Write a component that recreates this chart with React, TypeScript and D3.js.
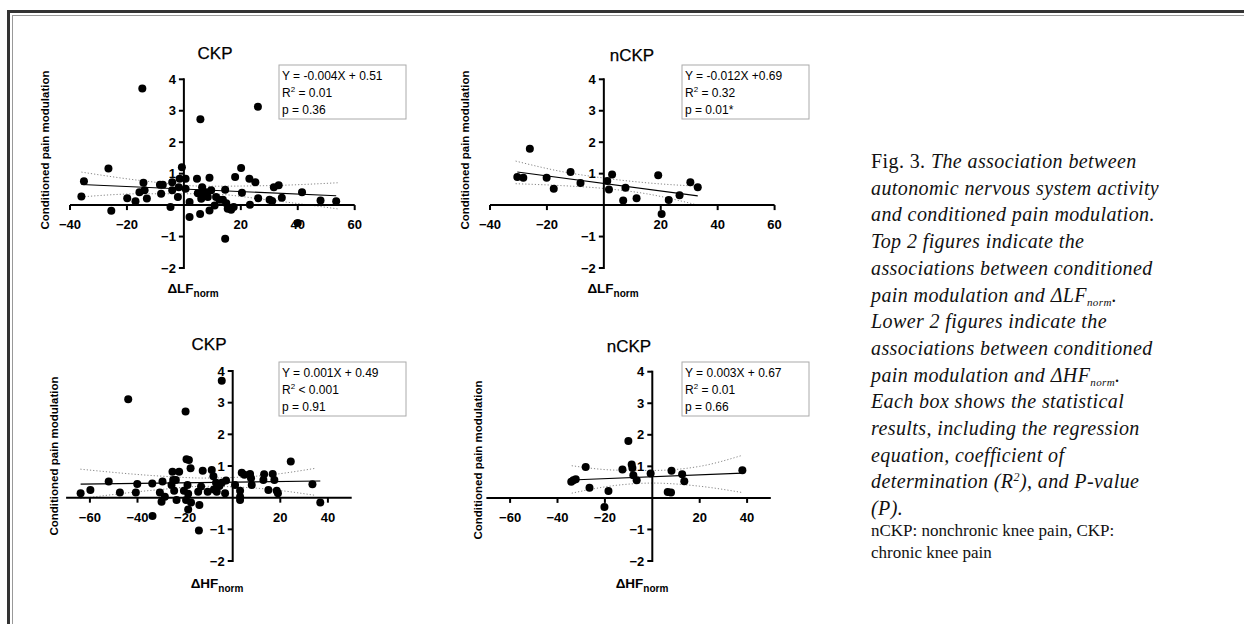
import React from "react"
import * as d3 from "d3"

// points: [ΔX, conditioned pain modulation]
const ckpLF: [number, number][] = [
  [-14.6, 3.71], [26.0, 3.13], [5.8, 2.73], [-26.5, 1.16], [20.1, 1.18], [-0.7, 1.2],
  [-35.1, 0.76], [-36.0, 0.27], [-25.5, -0.18], [-19.9, 0.22], [-17.0, 0.12], [-15.6, 0.41],
  [-14.2, 0.71], [-13.8, 0.47], [-13.0, 0.21], [-8.4, 0.65], [-7.4, 0.65], [-8.0, 0.36],
  [-4.7, -0.06], [-4.1, 0.73], [-4.1, 0.47], [-2.1, 0.26], [-1.8, 0.57], [-1.5, 0.84],
  [0.6, 0.84], [0.6, 0.52], [2.0, 0.1], [2.0, -0.38], [4.6, 0.84], [4.9, 0.38],
  [6.1, 0.2], [5.7, -0.28], [6.4, 0.57], [6.9, 0.36], [7.8, 0.41], [9.0, 0.87],
  [8.4, 0.26], [9.0, -0.17], [9.6, 0.47], [10.8, -0.01], [11.3, 0.26], [12.5, 0.17],
  [13.7, 0.17], [14.5, 0.49], [14.9, 0.06], [15.4, -0.12], [16.6, -0.15], [14.5, -1.07],
  [18.0, 0.89], [20.4, 0.39], [17.5, -0.06], [23.0, 0.84], [25.1, 0.73], [23.2, 0.01],
  [26.1, 0.22], [31.0, 0.13], [31.6, 0.57], [33.3, 0.63], [34.4, 0.23], [30.1, 0.17],
  [41.5, 0.41], [40.0, -0.57], [48.0, 0.15], [53.5, 0.12],
]

const nckpLF: [number, number][] = [
  [-30.4, 0.89], [-28.3, 0.87], [-26.0, 1.79], [-20.1, 0.87], [-17.6, 0.52], [-11.7, 1.05],
  [-8.2, 0.7], [1.2, 0.77], [1.8, 0.5], [2.9, 0.97], [7.6, 0.55], [6.8, 0.15],
  [11.5, 0.22], [19.1, 0.95], [20.3, -0.28], [22.8, 0.16], [26.6, 0.31], [30.4, 0.73],
  [33.0, 0.57],
]

const ckpHF: [number, number][] = [
  [-4.6, 3.69], [-43.9, 3.11], [-19.8, 2.72], [-19.4, 1.21], [-18.4, 1.19], [24.4, 1.14],
  [-63.9, 0.14], [-59.8, 0.24], [-52.1, 0.51], [-47.4, 0.16], [-40.7, 0.16], [-40.1, 0.43],
  [-33.8, 0.45], [-33.7, -0.58], [-30.6, 0.16], [-29.5, 0.51], [-29.9, -0.13], [-28.5, 0.03],
  [-25.3, 0.82], [-24.6, 0.22], [-23.9, 0.56], [-23.6, -0.07], [-22.5, 0.82], [-25.0, 0.56],
  [-25.7, 0.4], [-20.5, 0.22], [-19.6, -0.07], [-18.7, 0.12], [-19.0, 0.4], [-17.7, 0.93],
  [-17.5, -0.15], [-18.7, -0.37], [-14.0, -0.23], [-14.2, -1.04], [-14.5, 0.19], [-13.3, 0.35],
  [-12.6, 0.85], [-10.5, 0.19], [-8.8, 0.87], [-8.1, 0.68], [-7.9, 0.26], [-7.0, 0.47],
  [-6.7, 0.19], [-5.6, 0.37], [-4.6, 0.47], [-3.2, 0.14], [-2.8, 0.54], [1.0, 0.4],
  [3.1, 0.22], [3.1, 0.03], [3.1, -0.07], [3.8, 0.79], [4.9, 0.72], [7.3, 0.75],
  [8.0, 0.4], [7.7, 0.61], [13.2, 0.74], [12.9, 0.56], [15.0, 0.24], [16.8, 0.75],
  [17.5, 0.56], [18.5, 0.22], [19.0, 0.14], [33.5, 0.42], [36.8, -0.15],
]

const nckpHF: [number, number][] = [
  [-34.2, 0.51], [-33.3, 0.56], [-32.3, 0.59], [-28.1, 0.98], [-26.5, 0.32], [-18.5, 0.22],
  [-20.2, -0.29], [-12.6, 0.9], [-10.1, 1.8], [-8.7, 1.06], [-8.4, 0.95], [-8.0, 0.72],
  [-6.6, 0.56], [-0.7, 0.77], [6.5, 0.19], [7.9, 0.17], [8.1, 0.86], [12.6, 0.75],
  [13.5, 0.53], [38.0, 0.88],
]

// regression fits as printed in the boxes
const fitSlopes = [-0.004, -0.012, 0.001, 0.003]
const fitIntercepts = [0.51, 0.69, 0.49, 0.67]
const eqText = ["Y = -0.004X + 0.51", "Y = -0.012X +0.69", "Y = 0.001X + 0.49", "Y = 0.003X + 0.67"]
const r2Text = [" = 0.01", " = 0.32", " < 0.001", " = 0.01"]
const pText = ["p = 0.36", "p = 0.01*", "p = 0.91", "p = 0.66"]

// 95% confidence bands, read at a few x values
const bandX = [
  [-36, -15, 8, 30, 54],
  [-31, -15, 0, 15, 33],
  [-64, -30, -12, 10, 35],
  [-34, -15, 0, 20, 38],
]
const bandUpper = [
  [1.05, 0.78, 0.6, 0.62, 0.71],
  [1.4, 1.07, 0.86, 0.71, 0.6],
  [0.9, 0.68, 0.62, 0.68, 0.93],
  [1.02, 0.88, 0.87, 1.0, 1.35],
]
const bandLower = [
  [0.26, 0.36, 0.36, 0.16, -0.12],
  [0.68, 0.62, 0.53, 0.36, 0.0],
  [-0.03, 0.26, 0.36, 0.3, 0.07],
  [0.15, 0.4, 0.47, 0.37, 0.17],
]

const titles = ["CKP", "nCKP", "CKP", "nCKP"]
const xLabels = ["ΔLF", "ΔLF", "ΔHF", "ΔHF"]
const yTicks = [-2, -1, 1, 2, 3, 4]
const xTicksLF = [-40, -20, 20, 40, 60]
const xTicksHF = [-60, -40, -20, 20, 40]

const captionLines = [
  [{ t: "Fig. 3. " }, { t: "The association between", i: true }],
  [{ t: "autonomic nervous system activity", i: true }],
  [{ t: "and conditioned pain modulation.", i: true }],
  [{ t: "Top 2 figures indicate the", i: true }],
  [{ t: "associations between conditioned", i: true }],
  [{ t: "pain modulation and ΔLF", i: true }, { t: "norm", i: true, sub: true }, { t: ".", i: true }],
  [{ t: "Lower 2 figures indicate the", i: true }],
  [{ t: "associations between conditioned", i: true }],
  [{ t: "pain modulation and ΔHF", i: true }, { t: "norm", i: true, sub: true }, { t: ".", i: true }],
  [{ t: "Each box shows the statistical", i: true }],
  [{ t: "results, including the regression", i: true }],
  [{ t: "equation, coefficient of", i: true }],
  [{ t: "determination (R", i: true }, { t: "2", i: true, sup: true }, { t: "), and P-value", i: true }],
  [{ t: "(P).", i: true }],
]
const captionNote = ["nCKP: nonchronic knee pain, CKP:", "chronic knee pain"]

const sans = "'Liberation Sans', Arial, Helvetica, sans-serif"
const serif = "'Liberation Serif', 'Times New Roman', serif"

const layout = [
  { xr: [70, 354.7], xd: [-40, 60], xt: xTicksLF, yr: [268, 79.3], title: [215, 59], ylab: [49, 150], xlab: [193, 293], box: [279, 65] },
  { xr: [490, 774.6], xd: [-40, 60], xt: xTicksLF, yr: [268, 79.3], title: [632, 61], ylab: [469, 150], xlab: [613, 293], box: [682, 65] },
  { xr: [66.1, 351.7], xd: [-70, 50], xt: xTicksHF, yr: [561, 371], title: [209, 350], ylab: [58, 456], xlab: [217, 588], box: [279, 362] },
  { xr: [486.4, 770.8], xd: [-70, 50], xt: xTicksHF, yr: [561, 371.7], title: [629, 352], ylab: [482, 460], xlab: [642, 588], box: [682, 362] },
]

const datasets = [ckpLF, nckpLF, ckpHF, nckpHF]
const fmt = d3.format("d")

function Panel({ i }: { i: number }) {
  const L = layout[i]
  const data = datasets[i]
  const x = d3.scaleLinear().domain(L.xd).range(L.xr)
  const y = d3.scaleLinear().domain([-2, 4]).range(L.yr)
  const x0 = x(0)
  const y0 = y(0)

  const [xmin, xmax] = d3.extent(data, d => d[0]) as [number, number]
  const fit = (v: number) => fitSlopes[i] * v + fitIntercepts[i]

  const band = d3.line<number>()
    .x((_, k) => x(bandX[i][k]))
    .y(d => y(d))
    .curve(d3.curveMonotoneX)

  const bx = L.box[0], by = L.box[1]

  return (
    <g fontFamily={sans}>
      <text x={L.title[0]} y={L.title[1]} fontSize={17} textAnchor="middle" stroke="#000" strokeWidth={0.25}>{titles[i]}</text>

      {/* confidence band */}
      <path d={band(bandUpper[i]) || ""} fill="none" stroke="#888" strokeWidth={1} strokeDasharray="1.2,2" />
      <path d={band(bandLower[i]) || ""} fill="none" stroke="#888" strokeWidth={1} strokeDasharray="1.2,2" />

      {/* axes */}
      <line x1={L.xr[0]} x2={L.xr[1]} y1={y0} y2={y0} stroke="#000" strokeWidth={2} />
      <line x1={x0} x2={x0} y1={y(-2) + 1} y2={y(4) - 1} stroke="#000" strokeWidth={2} />
      {L.xt.map(t => (
        <g key={t}>
          <line x1={x(t)} x2={x(t)} y1={y0} y2={y0 + 5} stroke="#000" strokeWidth={2} />
          <text x={x(t)} y={y0 + 24} fontSize={13} fontWeight="bold" textAnchor="middle">{fmt(t)}</text>
        </g>
      ))}
      {yTicks.map(t => (
        <g key={t}>
          <line x1={x0 - 5} x2={x0} y1={y(t)} y2={y(t)} stroke="#000" strokeWidth={2} />
          <text x={x0 - 8} y={y(t) + 4.6} fontSize={13} fontWeight="bold" textAnchor="end">{fmt(t)}</text>
        </g>
      ))}

      {/* fit */}
      <line x1={x(xmin)} x2={x(xmax)} y1={y(fit(xmin))} y2={y(fit(xmax))} stroke="#000" strokeWidth={1.1} />

      {data.map((d, k) => (
        <circle key={k} cx={x(d[0])} cy={y(d[1])} r={4} fill="#000" />
      ))}

      <text x={L.xlab[0]} y={L.xlab[1]} fontSize={13.5} fontWeight="bold" textAnchor="middle">
        {xLabels[i]}
        <tspan fontSize={10} dy={3.5}>norm</tspan>
      </text>
      <text transform={`translate(${L.ylab[0]},${L.ylab[1]}) rotate(-90)`} fontSize={11.5} fontWeight="bold" textAnchor="middle">
        Conditioned pain modulation
      </text>

      <rect x={bx} y={by} width={127} height={54} fill="#fff" stroke="#aaa" strokeWidth={1} />
      <text x={bx + 3} y={by + 15} fontSize={12}>{eqText[i]}</text>
      <text x={bx + 3} y={by + 32} fontSize={12}>
        R<tspan fontSize={8} dy={-5}>2</tspan><tspan dy={5}>{r2Text[i]}</tspan>
      </text>
      <text x={bx + 3} y={by + 49} fontSize={12}>{pText[i]}</text>
    </g>
  )
}

export default function App() {
  const capX = 871
  return (
    <svg width={1244} height={624} style={{ position: "absolute", left: 0, top: 0, background: "#fff" }}>
      <rect x={0} y={0} width={1244} height={624} fill="#fff" />
      {/* page frame */}
      <rect x={7} y={10} width={1237} height={3} fill="#333" />
      <rect x={7} y={10} width={3} height={614} fill="#333" />
      <rect x={12} y={15} width={1232} height={1} fill="#999" />
      <rect x={12} y={15} width={1} height={609} fill="#999" />

      {[0, 1, 2, 3].map(i => <Panel key={i} i={i} />)}

      <g fontFamily={serif} fill="#111">
        {captionLines.map((segs, li) => (
          <text key={li} x={capX} y={168 + li * 26.7} fontSize={20} letterSpacing={0.4}>
            {segs.map((s: any, k) => {
              if (s.sub) return <tspan key={k} fontStyle="italic" fontSize={11} dy={4}>{s.t}</tspan>
              if (s.sup) return <tspan key={k} fontStyle="italic" fontSize={12} dy={-7}>{s.t}</tspan>
              const prev: any = segs[k - 1]
              const dy = prev && prev.sub ? -4 : prev && prev.sup ? 7 : 0
              return <tspan key={k} fontStyle={s.i ? "italic" : "normal"} dy={dy}>{s.t}</tspan>
            })}
          </text>
        ))}
        {captionNote.map((t, li) => (
          <text key={li} x={capX} y={536 + li * 22} fontSize={17}>{t}</text>
        ))}
      </g>
    </svg>
  )
}
